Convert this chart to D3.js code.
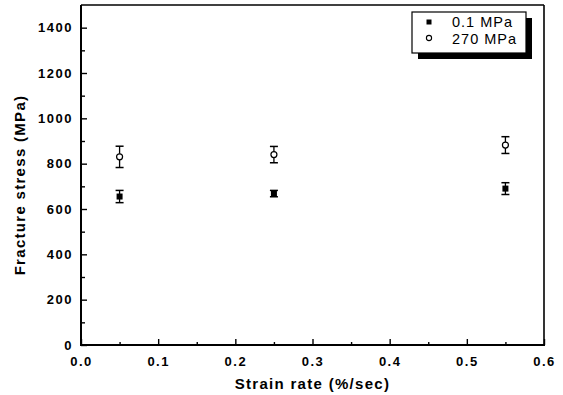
<!DOCTYPE html>
<html>
<head>
<meta charset="utf-8">
<script src="https://cdn.jsdelivr.net/npm/d3@7"></script>
<style>
  html, body { margin: 0; padding: 0; background: #fff; }
  svg { display: block; }
  text { font-family: "Liberation Sans", Arial, sans-serif; fill: #000; }
</style>
</head>
<body>
<svg id="chart" width="563" height="395"></svg>
<script>
// ---- Data ----
const strainRate = [0.05, 0.25, 0.55];
const stressLow = [655, 668, 690];      // 0.1 MPa
const errLow = [27, 14, 26];
const stressHigh = [830, 840, 882];     // 270 MPa
const errHigh = [47, 36, 37];
const seriesNames = ["0.1 MPa", "270 MPa"];
const xTicks = [0.0, 0.1, 0.2, 0.3, 0.4, 0.5, 0.6];
const xMinorTicks = [0.05, 0.15, 0.25, 0.35, 0.45, 0.55];
const yTicks = [0, 200, 400, 600, 800, 1000, 1200, 1400];
const yMinorTicks = [100, 300, 500, 700, 900, 1100, 1300];
const xTitle = "Strain rate (%/sec)";
const yTitle = "Fracture stress (MPa)";

// ---- Layout ----
const L = 81, R = 544, T = 5, B = 345;
const svg = d3.select("#chart");
const x = d3.scaleLinear().domain([0, 0.6]).range([L, R]);
const y = d3.scaleLinear().domain([0, 1500]).range([B, T]);

// Axes (ticks pointing inward)
const gx = svg.append("g").attr("transform", `translate(0,${B})`)
  .call(d3.axisBottom(x).tickValues(xTicks).tickSize(-6).tickPadding(12).tickFormat(d3.format(".1f")));
const gxm = svg.append("g").attr("transform", `translate(0,${B})`)
  .call(d3.axisBottom(x).tickValues(xMinorTicks).tickSize(-3).tickFormat(""));
const gy = svg.append("g").attr("transform", `translate(${L},0)`)
  .call(d3.axisLeft(y).tickValues(yTicks).tickSize(-6).tickPadding(8).tickFormat(d3.format("d")));
const gym = svg.append("g").attr("transform", `translate(${L},0)`)
  .call(d3.axisLeft(y).tickValues(yMinorTicks).tickSize(-4).tickFormat(""));

[gx, gxm, gy, gym].forEach(g => {
  g.select(".domain").remove();
  g.selectAll(".tick line").attr("stroke", "#000").attr("stroke-width", 1.4);
  g.selectAll("text").attr("font-size", 13).attr("font-weight", "bold")
    .attr("letter-spacing", "1.5px").attr("fill", "#000");
});

// Frame
svg.append("line").attr("x1", L).attr("x2", R).attr("y1", T).attr("y2", T)
  .attr("stroke", "#000").attr("stroke-width", 1.6);
svg.append("line").attr("x1", R).attr("x2", R).attr("y1", T).attr("y2", B)
  .attr("stroke", "#000").attr("stroke-width", 1.6);
svg.append("line").attr("x1", L).attr("x2", L).attr("y1", T).attr("y2", B + 1)
  .attr("stroke", "#000").attr("stroke-width", 2);
svg.append("line").attr("x1", L - 1).attr("x2", R + 1).attr("y1", B).attr("y2", B)
  .attr("stroke", "#000").attr("stroke-width", 2);

// Axis titles
svg.append("text").attr("x", (L + R) / 2).attr("y", 389)
  .attr("text-anchor", "middle").attr("font-size", 15).attr("font-weight", "bold")
  .attr("letter-spacing", "1.3px").text(xTitle);
svg.append("text").attr("transform", `translate(25,${(T + B) / 2 + 10}) rotate(-90)`)
  .attr("text-anchor", "middle").attr("font-size", 15).attr("font-weight", "bold")
  .attr("letter-spacing", "1.3px").text(yTitle);

// Error bars + markers
function drawSeries(vals, errs, filled) {
  const g = svg.append("g");
  strainRate.forEach((sr, i) => {
    const cx = x(sr), v = vals[i], e = errs[i];
    g.append("line").attr("x1", cx).attr("x2", cx).attr("y1", y(v - e)).attr("y2", y(v + e))
      .attr("stroke", "#000").attr("stroke-width", 1.3);
    [v - e, v + e].forEach(ev => {
      g.append("line").attr("x1", cx - 4).attr("x2", cx + 4).attr("y1", y(ev)).attr("y2", y(ev))
        .attr("stroke", "#000").attr("stroke-width", 1.5);
    });
    if (filled) {
      g.append("rect").attr("x", cx - 3).attr("y", y(v) - 3).attr("width", 6).attr("height", 6)
        .attr("fill", "#000");
    } else {
      g.append("circle").attr("cx", cx).attr("cy", y(v)).attr("r", 3)
        .attr("fill", "#fff").attr("stroke", "#000").attr("stroke-width", 1.2);
    }
  });
}
drawSeries(stressLow, errLow, true);
drawSeries(stressHigh, errHigh, false);

// Legend
const lg = svg.append("g");
lg.append("rect").attr("x", 418).attr("y", 18).attr("width", 114).attr("height", 41).attr("fill", "#000");
lg.append("rect").attr("x", 412).attr("y", 12).attr("width", 114).attr("height", 41)
  .attr("fill", "#fff").attr("stroke", "#000").attr("stroke-width", 1.2);
lg.append("rect").attr("x", 426.5).attr("y", 19.5).attr("width", 5).attr("height", 5).attr("fill", "#000");
lg.append("circle").attr("cx", 429).attr("cy", 38).attr("r", 2.6)
  .attr("fill", "#fff").attr("stroke", "#000").attr("stroke-width", 1.1);
lg.selectAll("text.lbl").data(seriesNames).enter().append("text").attr("class", "lbl")
  .attr("x", 452).attr("y", (d, i) => 27 + i * 16.5)
  .attr("font-size", 14.5).attr("letter-spacing", "1px").text(d => d);
</script>
</body>
</html>
